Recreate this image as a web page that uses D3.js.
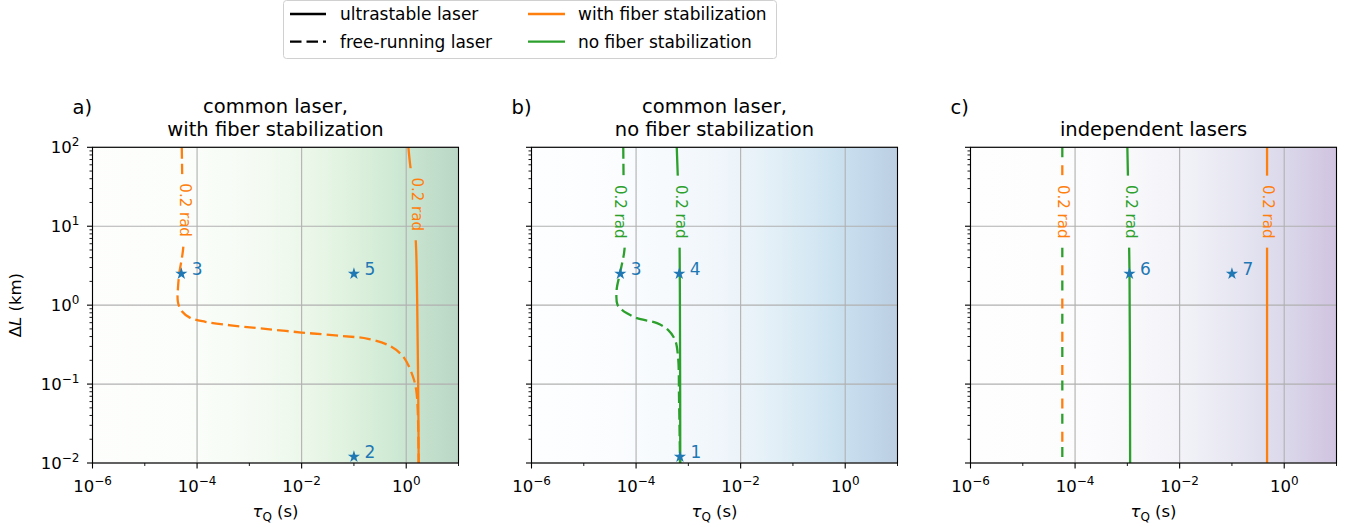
<!DOCTYPE html>
<html>
<head>
<meta charset="utf-8">
<script src="https://cdn.jsdelivr.net/npm/d3@7"></script>
<style>
  body { margin: 0; background: #fff; }
  svg { display: block; font-family: "DejaVu Sans", sans-serif; }
</style>
</head>
<body>
<svg id="fig" width="1354" height="527"></svg>
<script>
// ---- data (tau_Q in s, delta L in km) ----
const tauDomain = [1e-6, 1e1];
const lenDomain = [1e-2, 1e2];
const xMajorTicks = [1e-6, 1e-4, 1e-2, 1e0];
const xMinorTicks = [1e-5, 1e-3, 1e-1, 1e1];
const yMajorTicks = [1e-2, 1e-1, 1e0, 1e1, 1e2];

const panelTags = ["a)", "b)", "c)"];
const panelTitles = [
  ["common laser,", "with fiber stabilization"],
  ["common laser,", "no fiber stabilization"],
  ["independent lasers"]
];

// 0.2 rad contours
const aFiberUltra = [[1.10, 100], [1.19, 60], [1.30, 38], [1.42, 16], [1.55, 5], [1.62, 1.17], [1.69, 0.113], [1.73, 0.01]];
const aFiberFree = [[5.1e-5, 100], [5.3e-5, 20], [5.5e-5, 6], [5.2e-5, 4.2], [4.6e-5, 2.6], [4.3e-5, 1.6], [4.3e-5, 1.1],
  [5.0e-5, 0.85], [7.4e-5, 0.69], [1.44e-4, 0.615], [4.4e-4, 0.555], [1.64e-3, 0.508], [1.0e-2, 0.45], [5.6e-2, 0.408],
  [0.186, 0.374], [0.513, 0.299], [0.912, 0.215], [1.34, 0.125], [1.55, 0.0847], [1.66, 0.0473], [1.73, 0.01]];
const bNoFiberUltra = [[6.0e-4, 100], [6.4e-4, 30], [6.8e-4, 6], [6.9e-4, 1], [7.0e-4, 0.01]];
const bNoFiberFree = [[5.69e-5, 100], [5.85e-5, 20], [6.1e-5, 6.2], [5.9e-5, 4.6], [4.9e-5, 2.5], [4.25e-5, 1.56], [4.41e-5, 1.01],
  [5.37e-5, 0.873], [6.7e-5, 0.787], [1.04e-4, 0.684], [2.52e-4, 0.591], [4.08e-4, 0.486], [5.56e-4, 0.363],
  [6.35e-4, 0.222], [6.64e-4, 0.063], [6.93e-4, 0.01]];
const cFiberUltra = [[0.47, 100], [0.47, 0.01]];
const cFiberFree = [[5.7e-5, 100], [5.7e-5, 0.01]];
const cNoFiberUltra = [[1.0e-3, 100], [1.05e-3, 20], [1.1e-3, 2.5], [1.13e-3, 0.01]];
const cNoFiberFree = [[5.7e-5, 100], [5.7e-5, 0.01]];

// inline contour label spots [tau, len]
const aLabels = [[5.96e-5, 16], [1.62, 19]];
const bLabels = [[4.92e-5, 15.3], [7.08e-4, 15.3]];
const cLabels = [[5.94e-5, 15.3], [1.18e-3, 15.3], [0.50, 15.3]];

// numbered operating points
const aPoints = [{ n: "3", tau: 5e-5, len: 2.5 }, { n: "5", tau: 0.1, len: 2.5 }, { n: "2", tau: 0.1, len: 0.012 }];
const bPoints = [{ n: "3", tau: 5e-5, len: 2.5 }, { n: "4", tau: 6.7e-4, len: 2.5 }, { n: "1", tau: 6.9e-4, len: 0.012 }];
const cPoints = [{ n: "6", tau: 1.1e-3, len: 2.5 }, { n: "7", tau: 0.1, len: 2.5 }];

const legendLines = ["ultrastable laser", "free-running laser"];
const legendColors = ["with fiber stabilization", "no fiber stabilization"];

// ---- styling / layout ----
const ORANGE = "#ff7f0e", GREEN = "#2ca02c", BLUE = "#1f77b4";
const plotTop = 147.3, plotBottom = 463, plotW = 366;
const lefts = [92.5, 531.5, 970.5];
const LW = 2.3;

const panels = [
  { cmap: d3.interpolateGreens, points: aPoints, labels: aLabels.map((p, i) => [p, [ORANGE, ORANGE][i]]),
    lines: [{ d: aFiberFree, c: ORANGE, dash: "11.5 5" }, { d: aFiberUltra, c: ORANGE }] },
  { cmap: d3.interpolateBlues, points: bPoints, labels: bLabels.map(p => [p, GREEN]),
    lines: [{ d: bNoFiberFree, c: GREEN, dash: "11.5 5" }, { d: bNoFiberUltra, c: GREEN }] },
  { cmap: d3.interpolatePurples, points: cPoints, labels: cLabels.map((p, i) => [p, [ORANGE, GREEN, ORANGE][i]]),
    lines: [{ d: cFiberFree, c: ORANGE, dash: "10 23.3", off: 15.3 }, { d: cNoFiberFree, c: GREEN, dash: "10 23.3", off: 0 },
            { d: cNoFiberUltra, c: GREEN }, { d: cFiberUltra, c: ORANGE }] }
];

const svg = d3.select("#fig");
const defs = svg.append("defs");

const y = d3.scaleLog().domain(lenDomain).range([plotBottom, plotTop]);

function powLabel(sel, v) {
  const e = Math.round(Math.log10(v));
  sel.append("tspan").text("10");
  sel.append("tspan").attr("dy", -7).attr("font-size", 12).text(e < 0 ? "\u2212" + (-e) : String(e));
}

panels.forEach((p, i) => {
  const left = lefts[i];
  const x = d3.scaleLog().domain(tauDomain).range([left, left + plotW]);
  const g = svg.append("g");

  // background gradient along tau
  const grad = defs.append("linearGradient").attr("id", "bg" + i);
  d3.range(0, 41).forEach(k => {
    const f = k / 40;
    grad.append("stop").attr("offset", f).attr("stop-color", p.cmap(0.9 * f * f));
  });
  g.append("rect").attr("x", left).attr("y", plotTop).attr("width", plotW).attr("height", plotBottom - plotTop)
    .attr("fill", `url(#bg${i})`).attr("opacity", 0.27);

  // grid
  g.selectAll(".gx").data(xMajorTicks).join("line")
    .attr("x1", d => x(d)).attr("x2", d => x(d)).attr("y1", plotTop).attr("y2", plotBottom)
    .attr("stroke", "#b0b0b0").attr("stroke-width", 1.1);
  g.selectAll(".gy").data(yMajorTicks).join("line")
    .attr("x1", left).attr("x2", left + plotW).attr("y1", d => y(d)).attr("y2", d => y(d))
    .attr("stroke", "#b0b0b0").attr("stroke-width", 1.1);

  // clip + inline-label mask for contours
  defs.append("clipPath").attr("id", "clip" + i).append("rect")
    .attr("x", left).attr("y", plotTop).attr("width", plotW).attr("height", plotBottom - plotTop);
  const mask = defs.append("mask").attr("id", "mask" + i).attr("maskUnits", "userSpaceOnUse")
    .attr("x", 0).attr("y", 0).attr("width", 1354).attr("height", 527);
  mask.append("rect").attr("width", 1354).attr("height", 527).attr("fill", "#fff");
  p.labels.forEach(([pt]) => {
    mask.append("rect").attr("x", x(pt[0]) - 10).attr("y", y(pt[1]) - 36).attr("width", 20).attr("height", 72).attr("fill", "#000");
  });

  const line = d3.line().x(d => x(d[0])).y(d => y(d[1])).curve(d3.curveMonotoneY);
  const lineFree = d3.line().x(d => x(d[0])).y(d => y(d[1])).curve(d3.curveCatmullRom.alpha(0.5));
  const cg = g.append("g").attr("clip-path", `url(#clip${i})`).append("g").attr("mask", `url(#mask${i})`);
  p.lines.forEach(l => {
    cg.append("path").attr("d", (l.d.length > 8 ? lineFree : line)(l.d)).attr("fill", "none")
      .attr("stroke", l.c).attr("stroke-width", LW)
      .attr("stroke-dasharray", l.dash || null).attr("stroke-dashoffset", l.off || 0);
  });

  // contour labels
  p.labels.forEach(([pt, c]) => {
    g.append("text").attr("transform", `translate(${x(pt[0])},${y(pt[1])}) rotate(90)`)
      .attr("text-anchor", "middle").attr("dominant-baseline", "central")
      .attr("font-size", 15).attr("fill", c).text("0.2 rad");
  });

  // stars
  g.selectAll(".pt").data(p.points).join("path")
    .attr("transform", d => `translate(${x(d.tau)},${y(d.len)})`)
    .attr("d", d3.symbol(d3.symbolStar, 46)).attr("fill", BLUE);
  g.selectAll(".ptl").data(p.points).join("text")
    .attr("x", d => x(d.tau) + 10.5).attr("y", d => y(d.len) + 1.5)
    .attr("font-size", 17).attr("fill", BLUE).text(d => d.n);

  // frame
  g.append("rect").attr("x", left).attr("y", plotTop).attr("width", plotW).attr("height", plotBottom - plotTop)
    .attr("fill", "none").attr("stroke", "#000").attr("stroke-width", 1.1);

  // x ticks
  g.selectAll(".tx").data(xMajorTicks).join("line")
    .attr("x1", d => x(d)).attr("x2", d => x(d)).attr("y1", plotBottom).attr("y2", plotBottom + 5.5)
    .attr("stroke", "#000").attr("stroke-width", 1.1);
  g.selectAll(".txm").data(xMinorTicks).join("line")
    .attr("x1", d => x(d)).attr("x2", d => x(d)).attr("y1", plotBottom).attr("y2", plotBottom + 3)
    .attr("stroke", "#000").attr("stroke-width", 0.9);
  xMajorTicks.forEach(v => {
    const t = g.append("text").attr("x", x(v)).attr("y", plotBottom + 29).attr("text-anchor", "middle").attr("font-size", 16.5);
    powLabel(t, v);
  });
  const xl = g.append("text").attr("x", left + plotW / 2).attr("y", 517).attr("text-anchor", "middle").attr("font-size", 16.5);
  xl.append("tspan").attr("font-style", "italic").text("\u03c4");
  xl.append("tspan").attr("dy", 4).attr("font-size", 12).text("Q");
  xl.append("tspan").attr("dy", -4).text(" (s)");

  // y ticks
  const yMinor = [];
  d3.range(-2, 2).forEach(e => d3.range(2, 10).forEach(k => yMinor.push(k * Math.pow(10, e))));
  g.selectAll(".ty").data(yMajorTicks).join("line")
    .attr("x1", left - 5.5).attr("x2", left).attr("y1", d => y(d)).attr("y2", d => y(d))
    .attr("stroke", "#000").attr("stroke-width", 1.1);
  g.selectAll(".tym").data(yMinor).join("line")
    .attr("x1", left - 3).attr("x2", left).attr("y1", d => y(d)).attr("y2", d => y(d))
    .attr("stroke", "#000").attr("stroke-width", 0.9);
  if (i === 0) {
    yMajorTicks.forEach(v => {
      const t = g.append("text").attr("x", left - 13).attr("y", y(v) + 6).attr("text-anchor", "end").attr("font-size", 16.5);
      powLabel(t, v);
    });
    const yl = g.append("text").attr("transform", `translate(21,${(plotTop + plotBottom) / 2}) rotate(-90)`)
      .attr("text-anchor", "middle").attr("font-size", 16.5);
    yl.append("tspan").text("\u0394");
    yl.append("tspan").attr("font-style", "italic").text("L");
    yl.append("tspan").text(" (km)");
  }

  // titles
  g.append("text").attr("x", left - 20).attr("y", 114).attr("font-size", 19.5).text(panelTags[i]);
  const tl = panelTitles[i];
  tl.forEach((s, k) => {
    g.append("text").attr("x", left + plotW / 2).attr("y", 136 - (tl.length - 1 - k) * 23)
      .attr("text-anchor", "middle").attr("font-size", 19.5).text(s);
  });
});

// legend
const lg = svg.append("g");
lg.append("rect").attr("x", 283.5).attr("y", 0.5).attr("width", 493).attr("height", 58).attr("rx", 3)
  .attr("fill", "#fff").attr("stroke", "#d0d0d0").attr("stroke-width", 1);
legendLines.forEach((s, k) => {
  const yy = 14 + k * 27.7;
  lg.append("line").attr("x1", 290).attr("x2", 326).attr("y1", yy).attr("y2", yy)
    .attr("stroke", "#000").attr("stroke-width", LW).attr("stroke-dasharray", k ? "11.5 5" : null);
  lg.append("text").attr("x", 340).attr("y", yy + 6).attr("font-size", 17).text(s);
});
legendColors.forEach((s, k) => {
  const yy = 14 + k * 27.7;
  lg.append("line").attr("x1", 528).attr("x2", 565).attr("y1", yy).attr("y2", yy)
    .attr("stroke", k ? GREEN : ORANGE).attr("stroke-width", LW);
  lg.append("text").attr("x", 578).attr("y", yy + 6).attr("font-size", 17).text(s);
});
</script>
</body>
</html>
